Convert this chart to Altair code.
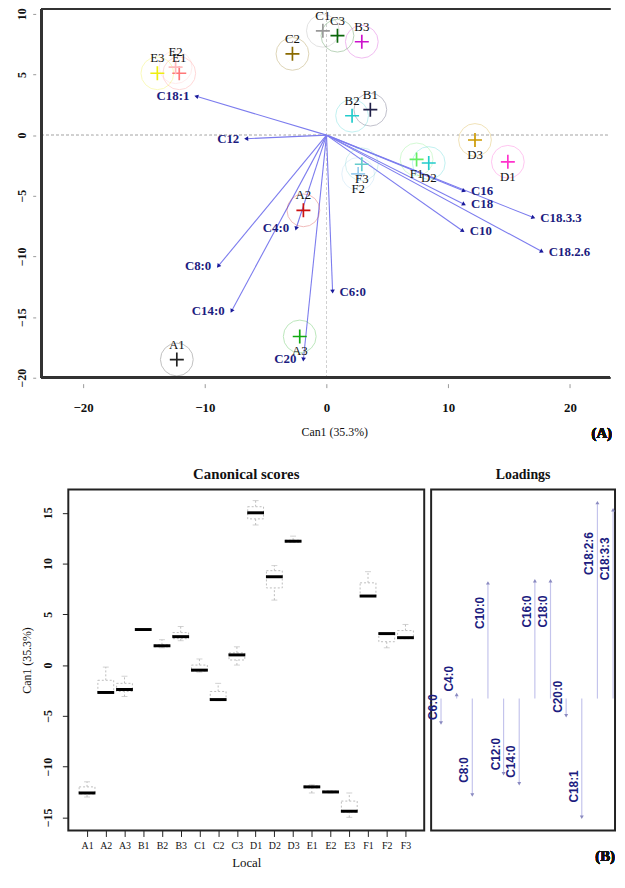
import altair as alt
import pandas as pd
import numpy as np

# ---------------- Panel A : canonical plot ----------------
sites = ["A1", "A2", "A3", "B1", "B2", "B3", "C1", "C2", "C3",
         "D1", "D2", "D3", "E1", "E2", "E3", "F1", "F2", "F3"]
score_x = [-12.3, -1.9, -2.2, 3.6, 2.1, 2.9, -0.3, -2.8, 0.9,
           14.9, 8.4, 12.2, -12.1, -12.4, -13.9, 7.4, 2.6, 2.9]
score_y = [-18.5, -6.2, -16.6, 2.1, 1.6, 7.7, 8.6, 6.7, 8.2,
           -2.2, -2.3, -0.4, 5.1, 5.6, 5.1, -2.0, -3.2, -2.4]
site_colors = ["#222222", "#cc1111", "#11aa11", "#202048", "#22cccc", "#cc11cc",
               "#999999", "#8a6a00", "#0a660a", "#ff33cc", "#22cccc", "#cc9900",
               "#ff7777", "#ffbbbb", "#eeee11", "#66ee66", "#99ccee", "#66cccc"]

load_a_names = ["C18:1", "C12", "C4:0", "C8:0", "C14:0", "C20",
                "C6:0", "C10", "C18.2.6", "C18.3.3", "C18", "C16"]
load_a_x = [-10.7, -6.6, -2.5, -8.9, -7.8, -1.9, 0.5, 11.2, 17.7, 17.0, 11.3, 11.3]
load_a_y = [3.2, -0.3, -7.7, -10.8, -14.5, -18.5, -12.9, -7.9, -9.6, -6.8, -5.7, -4.6]

# ---------------- Panel B : box plots of Can1 ----------------
box_lo = [-13.0, -2.8, -3.1, 3.5, 1.7, 2.4, -0.7, -3.5, 0.0, 13.8, 6.4, 12.1, -12.6, -12.6, -15.0, 6.8, 1.7, 2.6]
box_q1 = [-12.7, -2.7, -2.6, 3.5, 1.8, 2.6, -0.6, -3.4, 0.5, 14.4, 7.6, 12.1, -12.1, -12.5, -14.5, 6.8, 2.3, 2.6]
box_med = [-12.6, -2.7, -2.4, 3.5, 1.9, 2.8, -0.5, -3.4, 1.0, 15.0, 8.7, 12.2, -12.0, -12.5, -14.4, 6.8, 3.1, 2.7]
box_q3 = [-12.0, -1.5, -1.8, 3.5, 2.0, 3.2, 0.0, -2.6, 1.2, 15.6, 9.3, 12.3, -11.9, -12.4, -13.4, 8.1, 3.1, 3.4]
box_hi = [-11.5, -0.2, -1.1, 3.5, 2.5, 3.8, 0.6, -1.8, 1.8, 16.2, 9.8, 12.7, -11.8, -12.4, -12.6, 9.2, 3.1, 4.0]

load_b_names = ["C6:0", "C4:0", "C8:0", "C10:0", "C12:0", "C14:0",
                "C16:0", "C18:0", "C20:0", "C18:1", "C18:2:6", "C18:3:3"]
load_b_vals = [-0.12, 0.02, -0.475, 0.57, -0.37, -0.42, 0.58, 0.58, -0.085, -0.585, 0.965, 0.93]

SERIF = "Liberation Serif"
SANS = "Liberation Sans"
NAVY = "#1c1c80"

# ======== Panel A ========
dfp = pd.DataFrame({"site": sites, "cx": score_x, "cy": score_y, "col": site_colors})
dfp["below"] = ((dfp.cy < 0) & (dfp.cx > 0)) | ((dfp.cy < -15) & (dfp.cx > -5))

dfl = pd.DataFrame({"name": load_a_names, "lx": load_a_x, "ly": load_a_y})
dfl["ox"] = 0.0
dfl["oy"] = 0.0
dfl["ang"] = (np.degrees(np.arctan2(dfl.lx, dfl.ly)) + 360) % 360

# frame of panel A; the plot area starts 29 px right of the frame so that
# its origin lines up with panel B
WA, HA = 548, 373
XMIN, XMAX, YMIN, YMAX = -23.4, 23.3, -20, 10.4
XLO = XMAX - WA / 12.31
xs = alt.Scale(domain=[XLO, XMAX], nice=False, zero=False)
ys = alt.Scale(domain=[YMIN, YMAX], nice=False, zero=False)

xaxA = alt.Axis(values=[-20, -10, 0, 10, 20], title="Can1 (35.3%)", grid=False, domain=False,
                tickSize=4, offset=6, labelPadding=14, labelFont=SERIF, labelFontSize=13,
                labelFontWeight="bold", titleFont=SERIF, titleFontSize=12, titleFontWeight="normal",
                titlePadding=12, titleX=269, tickColor="#999", labelColor="#111", titleColor="#111")
yaxA = alt.Axis(values=[-20, -15, -10, -5, 0, 5, 10], title=None, grid=False, domain=False,
                tickSize=3, offset=33, labelPadding=4, labelAngle=270, labelAlign="center",
                labelBaseline="bottom", labelFont=SERIF, labelFontSize=12, labelFontWeight="bold",
                tickColor="#999", labelColor="#111")

base_p = alt.Chart(dfp)
base_l = alt.Chart(dfl)

zero_v = alt.Chart(dfp).mark_rule(color="#d0d0d0", strokeDash=[2, 3], strokeWidth=1).encode(
    x=alt.datum(0, scale=xs, axis=xaxA), y=alt.datum(YMIN, scale=ys, axis=yaxA), y2=alt.datum(YMAX))
zero_h = alt.Chart(dfp).mark_rule(color="#d0d0d0", strokeDash=[2, 3], strokeWidth=1).encode(
    y=alt.datum(0, scale=ys), x=alt.datum(XMIN, scale=xs), x2=alt.datum(XMAX))

frame_top = alt.Chart(dfp).mark_rule(color="#333333", strokeWidth=2).encode(
    y=alt.datum(YMAX, scale=ys), x=alt.datum(XMIN, scale=xs), x2=alt.datum(XMAX))
frame_bot = alt.Chart(dfp).mark_rule(color="#333333", strokeWidth=2).encode(
    y=alt.datum(YMIN, scale=ys), x=alt.datum(XMIN, scale=xs), x2=alt.datum(XMAX))
frame_left = alt.Chart(dfp).mark_rule(color="#333333", strokeWidth=2).encode(
    x=alt.datum(XMIN, scale=xs), y=alt.datum(YMIN, scale=ys), y2=alt.datum(YMAX))

arrows = base_l.mark_rule(color="#7c7cee", strokeWidth=1.1).encode(
    x=alt.X("ox:Q", scale=xs), y=alt.Y("oy:Q", scale=ys), x2="lx:Q", y2="ly:Q")
heads = base_l.mark_point(shape="triangle-up", size=22, filled=True, color="#1a1a9a", opacity=1).encode(
    x=alt.X("lx:Q", scale=xs), y=alt.Y("ly:Q", scale=ys), angle=alt.Angle("ang:Q", scale=None))
lab_left = base_l.transform_filter("datum.lx < 0").mark_text(
    align="right", baseline="middle", dx=-7, font=SERIF, fontSize=13, fontWeight="bold", color=NAVY
).encode(x=alt.X("lx:Q", scale=xs), y=alt.Y("ly:Q", scale=ys), text="name:N")
lab_right = base_l.transform_filter("datum.lx >= 0").mark_text(
    align="left", baseline="middle", dx=7, font=SERIF, fontSize=13, fontWeight="bold", color=NAVY
).encode(x=alt.X("lx:Q", scale=xs), y=alt.Y("ly:Q", scale=ys), text="name:N")

circles = base_p.mark_point(shape="circle", size=1100, filled=False, strokeWidth=1, opacity=0.28).encode(
    x=alt.X("cx:Q", scale=xs), y=alt.Y("cy:Q", scale=ys), color=alt.Color("col:N", scale=None))
plus = base_p.mark_point(shape="M-1,0L1,0M0,-1L0,1", size=200, filled=False, strokeWidth=1.7, opacity=1).encode(
    x=alt.X("cx:Q", scale=xs), y=alt.Y("cy:Q", scale=ys), color=alt.Color("col:N", scale=None))
site_above = base_p.transform_filter("!datum.below").mark_text(
    dy=-15, font=SERIF, fontSize=13, color="#111111").encode(
    x=alt.X("cx:Q", scale=xs), y=alt.Y("cy:Q", scale=ys), text="site:N")
site_below = base_p.transform_filter("datum.below").mark_text(
    dy=15, font=SERIF, fontSize=13, color="#111111").encode(
    x=alt.X("cx:Q", scale=xs), y=alt.Y("cy:Q", scale=ys), text="site:N")

tagA = alt.Chart(dfp).mark_text(text="(A)", font=SERIF, fontSize=15, fontWeight="bold",
                                color="#111111", align="right").encode(
    x=alt.value(WA + 2), y=alt.value(HA + 56))

top = alt.layer(zero_v, zero_h, arrows, heads, lab_left, lab_right, circles, plus,
                site_above, site_below, frame_top, frame_bot, frame_left, tagA).properties(
    width=WA, height=HA, view=alt.ViewBackground(strokeOpacity=0))

# ======== Panel B left: box plots ========
HB = 345
dfb = pd.DataFrame({"site": sites, "lo": box_lo, "q1": box_q1, "med": box_med,
                    "q3": box_q3, "hi": box_hi})
xb = alt.X("site:N", sort=sites, scale=alt.Scale(type="point", padding=1.22),
           axis=alt.Axis(title="Local", labelAngle=0, grid=False, domain=False, tickSize=6,
                         labelPadding=4, labelFont=SERIF, labelFontSize=10, titleFont=SERIF,
                         titleFontSize=13, titleFontWeight="normal", titlePadding=6,
                         tickColor="#222", labelColor="#111", titleColor="#111"))
ybs = alt.Scale(domain=[-16.3, 17.3], nice=False, zero=False)
ybax = alt.Axis(values=[-15, -10, -5, 0, 5, 10, 15], title="Can1 (35.3%)", grid=False, domain=False,
                tickSize=6, labelPadding=8, labelAngle=270, labelAlign="center", labelBaseline="bottom",
                labelFont=SERIF, labelFontSize=12, labelFontWeight="bold", titleFont=SERIF,
                titleFontSize=12, titleFontWeight="normal", titlePadding=8,
                tickColor="#222", labelColor="#111", titleColor="#111")
bb = alt.Chart(dfb)
wh_lo = bb.mark_rule(color="#bdbdbd", strokeDash=[2, 2], strokeWidth=1).encode(
    x=xb, y=alt.Y("lo:Q", scale=ybs, axis=ybax), y2="q1:Q")
wh_hi = bb.mark_rule(color="#bdbdbd", strokeDash=[2, 2], strokeWidth=1).encode(
    x=xb, y=alt.Y("q3:Q", scale=ybs), y2="hi:Q")
boxes = bb.mark_bar(width=16, fill="white", stroke="#bdbdbd", strokeWidth=1, strokeDash=[2, 2]).encode(
    x=xb, y=alt.Y("q1:Q", scale=ybs), y2="q3:Q")
cap_lo = bb.mark_tick(color="#bdbdbd", size=6, thickness=1).encode(x=xb, y=alt.Y("lo:Q", scale=ybs))
cap_hi = bb.mark_tick(color="#bdbdbd", size=6, thickness=1).encode(x=xb, y=alt.Y("hi:Q", scale=ybs))
medians = bb.mark_tick(color="#000000", size=17, thickness=3, opacity=1).encode(
    x=xb, y=alt.Y("med:Q", scale=ybs))

bl = alt.layer(wh_lo, wh_hi, boxes, cap_lo, cap_hi, medians).properties(
    width=360, height=HB,
    title=alt.TitleParams("Canonical scores", font=SERIF, fontSize=15, fontWeight="bold",
                          anchor="middle", offset=8, color="#111"),
    view=alt.ViewBackground(stroke="#222222", strokeWidth=2))

# ======== Panel B right: loadings ========
WB = 186
dfv = pd.DataFrame({"name": load_b_names, "val": load_b_vals})
dfv["idx"] = np.arange(1, len(dfv) + 1)
dfv["zero"] = 0.0
dfv["ang"] = np.where(dfv.val > 0, 0, 180)
dfv["long"] = dfv.val.abs() >= 0.3
xl = alt.X("idx:Q", scale=alt.Scale(domain=[0.368, 0.368 + WB / 15.82], nice=False, zero=False),
           axis=None)
yls = alt.Scale(domain=[-0.65, 1.03], nice=False, zero=False)
bv = alt.Chart(dfv)
vlines = bv.mark_rule(color="#c4c4ec", strokeWidth=1.2).encode(
    x=xl, y=alt.Y("zero:Q", scale=yls, axis=None), y2="val:Q")
vheads = bv.mark_point(shape="triangle-up", size=16, filled=True, color="#8a8ac0", opacity=1).encode(
    x=xl, y=alt.Y("val:Q", scale=yls), angle=alt.Angle("ang:Q", scale=None))
vlab_long = bv.transform_filter("datum.long").transform_calculate(
    lab="datum.val * 0.74").mark_text(
    angle=270, align="center", baseline="bottom", dy=-1, font=SANS, fontSize=12,
    fontWeight="bold", color=NAVY).encode(x=xl, y=alt.Y("lab:Q", scale=yls), text="name:N")
vlab_short = bv.transform_filter("!datum.long").mark_text(
    angle=270, align="left", baseline="bottom", dx=3, dy=-1, font=SANS, fontSize=12,
    fontWeight="bold", color=NAVY).encode(x=xl, y=alt.Y("val:Q", scale=yls), text="name:N")
tagB = alt.Chart(dfv).mark_text(text="(B)", font=SERIF, fontSize=15, fontWeight="bold",
                                color="#111111", align="right").encode(
    x=alt.value(WB), y=alt.value(HB + 26))

br = alt.layer(vlines, vheads, vlab_long, vlab_short, tagB).properties(
    width=WB, height=HB,
    title=alt.TitleParams("Loadings", font=SERIF, fontSize=14, fontWeight="bold",
                          anchor="middle", offset=8, color="#111"),
    view=alt.ViewBackground(stroke="#222222", strokeWidth=2))

bottom = alt.hconcat(bl, br, spacing=0)

chart = alt.ConcatChart(concat=[top, bottom], columns=1, spacing=25, align="none",
                        bounds="full",
                        padding={"left": 7, "top": -6, "right": 0, "bottom": 0}
                        ).configure(background="white")

chart.save("out.html", embed_options={"renderer": "svg", "actions": False})
